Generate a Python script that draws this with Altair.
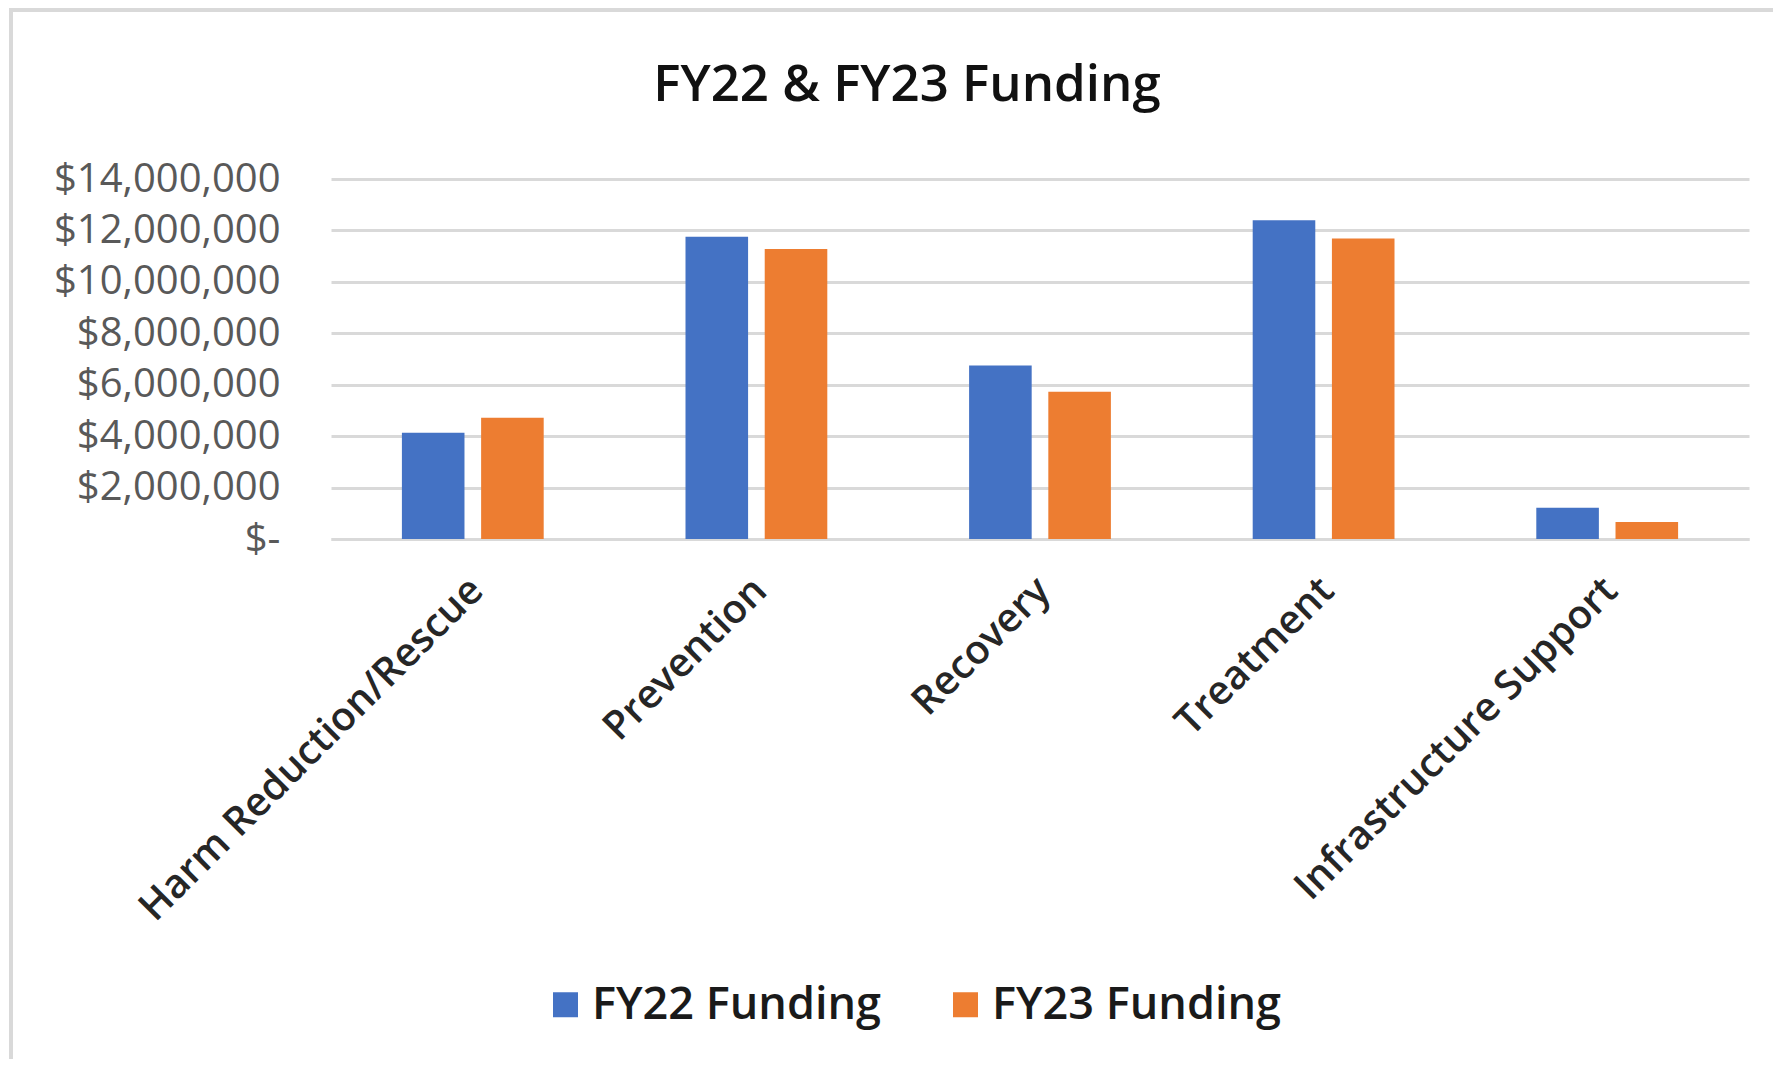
import altair as alt
import pandas as pd

categories = ["Harm Reduction/Rescue", "Prevention", "Recovery", "Treatment", "Infrastructure Support"]
series_names = ["FY22 Funding", "FY23 Funding"]
fy22 = [4130000, 11750000, 6750000, 12400000, 1220000]
fy23 = [4720000, 11280000, 5730000, 11690000, 660000]
colors = ["#4472C4", "#ED7D31"]
y_ticks = [0, 2000000, 4000000, 6000000, 8000000, 10000000, 12000000, 14000000]

rows = []
for c, a, b in zip(categories, fy22, fy23):
    rows.append({"Category": c, "Series": series_names[0], "Funding": a})
    rows.append({"Category": c, "Series": series_names[1], "Funding": b})
df = pd.DataFrame(rows)

FONT = "Open Sans"
NB = "\u00a0"

bars = alt.Chart(df).mark_bar().encode(
    x=alt.X(
        "Category:N",
        sort=categories,
        scale=alt.Scale(paddingInner=0.5, paddingOuter=0.25),
        axis=alt.Axis(
            title=None, labelAngle=-45, labelAlign="right", labelBaseline="middle",
            labelFontSize=40, labelFont=FONT, labelFontWeight=600, labelColor="#262626",
            labelPadding=45, labelOffset=4, ticks=False, domainColor="#D9D9D9",
            domainWidth=3, labelLimit=0, grid=False,
        ),
    ),
    xOffset=alt.XOffset("Series:N", sort=series_names,
                        scale=alt.Scale(paddingInner=0.21, paddingOuter=0)),
    y=alt.Y(
        "Funding:Q",
        scale=alt.Scale(domain=[0, 14000000], nice=False),
        axis=alt.Axis(
            title=None, values=y_ticks,
            labelExpr="datum.value == 0 ? '$-" + NB + NB + "' : '$' + format(datum.value, ',')",
            labelFontSize=40, labelFont=FONT, labelColor="#595959", labelPadding=51,
            labelLimit=0, ticks=False, domain=False, gridColor="#D9D9D9", gridWidth=3,
        ),
    ),
    color=alt.Color(
        "Series:N", sort=series_names,
        scale=alt.Scale(domain=series_names, range=colors),
        legend=alt.Legend(
            title=None, orient="none", direction="horizontal", legendX=212, legendY=803,
            symbolType="square", symbolSize=625, symbolStrokeWidth=0,
            labelFontSize=45, labelFont=FONT, labelFontWeight=600, labelColor="#1a1a1a",
            labelOffset=4, columnPadding=62, padding=0, labelLimit=0,
        ),
    ),
)

border_data = alt.Data(values=[{"k": 0}])
left_border = alt.Chart(border_data).mark_rule(color="#D9D9D9", strokeWidth=4).encode(
    x=alt.value(-320), y=alt.value(-171), y2=alt.value(880)
)
top_border = alt.Chart(border_data).mark_rule(color="#D9D9D9", strokeWidth=4).encode(
    x=alt.value(-322), x2=alt.value(1442), y=alt.value(-169)
)

chart = alt.layer(left_border, top_border, bars).properties(
    width=1418,
    height=360,
    background="white",
    title=alt.Title(
        "FY22 & FY23 Funding", fontSize=51, font=FONT, fontWeight=600, color="#111111",
        anchor="middle", frame="group", dx=-133, offset=-146, baseline="alphabetic",
    ),
    autosize=alt.AutoSizeParams(type="none"),
    padding={"left": 323, "top": 171, "right": 24, "bottom": 520},
).configure_view(stroke=None)

chart.save("out.html", embed_options={"renderer": "svg", "actions": False})
